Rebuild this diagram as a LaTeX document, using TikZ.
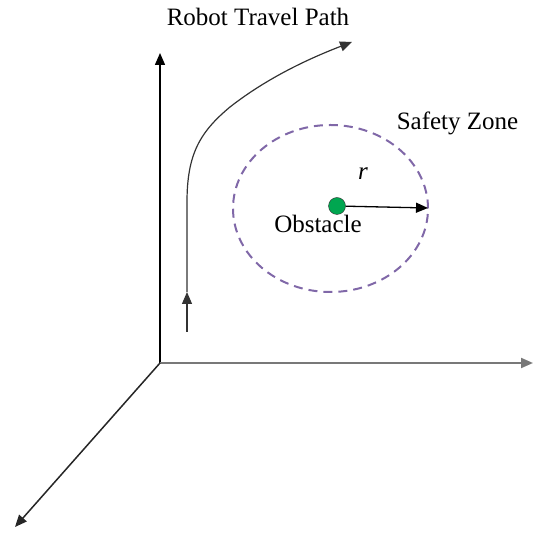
\documentclass[tikz,border=0pt]{standalone}
\usepackage{fontspec}
\setmainfont{Liberation Serif}
\definecolor{zonepurple}{RGB}{128,104,168}
\definecolor{obsgreen}{RGB}{0,166,80}
\definecolor{axisgray}{RGB}{120,120,120}
\usepackage{tikz}
\usetikzlibrary{arrows.meta,positioning,calc}

\begin{document}
\begin{tikzpicture}[x=1pt,y=1pt, every node/.style={font=\fontsize{25}{30}\selectfont},
  axis/.style={-{Triangle[length=12pt,width=10pt]},line width=1.5pt}]
\useasboundingbox (0,0) rectangle (534,532);
% axes
\coordinate (O) at (160,169);
\coordinate (up) at (160,479);
\coordinate (right) at (533,169);
\coordinate (front) at (15,5);
\draw[axis] (O)--(up);
\draw[axis,axisgray,line width=2pt] (O)--(right);
\draw[axis,black!85] (O)--(front);
% travel path
\coordinate (p0) at (187,200);
\coordinate (p1) at (187,240);
\coordinate (p2) at (352,490);
\draw[axis,line width=1.2pt,black!80] (p0)--(p1);
\draw[axis,line width=1.2pt,black!80] (p1)--(187,330) .. controls (187,378) and (200,400) .. (230,425) .. controls (262,450) and (300,470) .. (p2);
\node[anchor=base] (title) at (258,506) {Robot Travel Path};
% safety zone
\draw[zonepurple,line width=2pt,dash pattern=on 9pt off 6pt] (330.5,323.5) ellipse [x radius=97.5, y radius=83.5];
\node[anchor=base] (zone) at (457.5,402) {Safety Zone};
\node[circle,draw=black!80,fill=obsgreen,minimum size=17pt,inner sep=0pt,font=\normalsize] (obs) at (337,326) {};
\coordinate (rim) at (428,324);
\draw[-{Triangle[length=12pt,width=10pt]},line width=1.3pt] (obs)--(rim);
\node[anchor=base] (r) at (363,352) {\itshape r};
\node[anchor=base] (obstxt) at (318,299) {Obstacle};
\end{tikzpicture}
\end{document}
